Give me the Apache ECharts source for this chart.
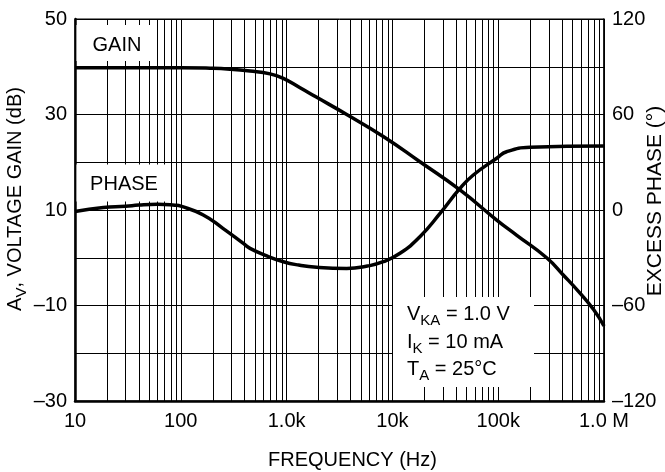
<!DOCTYPE html>
<html>
<head>
<meta charset="utf-8">
<script src="https://cdn.jsdelivr.net/npm/echarts@6/dist/echarts.min.js"></script>
<style>
  html, body { margin: 0; padding: 0; background: #fff; }
  #chart { width: 665px; height: 472px; }
</style>
</head>
<body>
<div id="chart"></div>
<script>
// Frequency axis ticks (Hz) and their printed labels
const frequencyTicks = [10, 100, 1000, 10000, 100000, 1000000];
const frequencyTickLabels = ['10', '100', '1.0k', '10k', '100k', '1.0 M'];

// Labelled values on the gain (left) and phase (right) axes
const gainTickLabels = [50, 30, 10, -10, -30];
const phaseTickLabels = [120, 60, 0, -60, -120];

// Open-loop voltage gain vs frequency
const gainFreq = [10, 30, 100, 189, 291, 451, 697, 920, 1340, 1890, 3700, 8200, 18200, 43500, 96800, 150000, 287000, 412000, 593000, 800000, 1000000];
const gainDb   = [39.8, 39.8, 39.8, 39.7, 39.5, 39.1, 38.5, 37.6, 35.6, 33.7, 30.0, 25.4, 20.1, 14.2, 7.9, 4.7, 0.0, -3.6, -7.4, -10.9, -14.3];

// Excess phase vs frequency
const phaseFreq = [10, 18.5, 30, 40, 60, 88, 100, 163, 250, 390, 451, 650, 931, 1300, 1923, 3700, 5800, 8200, 11800, 18200, 28200, 43500, 58200, 96800, 120000, 200000, 1000000];
const phaseDeg  = [-1.0, 1.5, 2.3, 3.1, 3.6, 3.0, 2.4, -3.1, -11.5, -21.0, -24.1, -28.8, -32.5, -34.6, -36.0, -36.7, -35.2, -32.5, -27.2, -16.8, -2.1, 13.6, 22.0, 32.5, 36.6, 39.4, 40.2];

// Intermediate log-grid lines (2..9 within each decade)
const minorGridFreq = [];
for (let d = 10; d < 1000000; d *= 10) {
  for (let k = 2; k <= 9; k++) minorGridFreq.push(k * d);
}

const FONT = '"Liberation Sans", Arial, Helvetica, sans-serif';
const dash = v => String(v).replace('-', '\u2013');
const zip = (xs, ys) => xs.map((x, i) => [x, ys[i]]);

const chart = echarts.init(document.getElementById('chart'), null, { renderer: 'canvas' });

// rich-text styles for labels with subscripts
const subRich = {
  a: { fontSize: 20, fontFamily: FONT, lineHeight: 22, verticalAlign: 'top', fill: '#000' },
  s: { fontSize: 15, fontFamily: FONT, lineHeight: 15, padding: [11, 0, 0, 0], fill: '#000' }
};

chart.setOption({
  animation: false,
  backgroundColor: '#fff',
  textStyle: { fontFamily: FONT },
  grid: {
    left: 75, right: 61, top: 19, bottom: 71,
    show: true, borderColor: '#000', borderWidth: 1, backgroundColor: 'transparent'
  },
  xAxis: {
    type: 'log', logBase: 10, min: 10, max: 1000000,
    axisLine: { show: true, onZero: false, lineStyle: { color: '#000', width: 2.5 } },
    axisTick: { show: false },
    splitLine: { show: true, lineStyle: { color: '#000', width: 1 } },
    axisLabel: {
      color: '#000', fontSize: 20, fontFamily: FONT, margin: 10,
      showMinLabel: true, showMaxLabel: true,
      formatter: v => {
        const i = frequencyTicks.findIndex(t => Math.abs(Math.log10(t) - Math.log10(v)) < 1e-6);
        return i >= 0 ? frequencyTickLabels[i] : '';
      }
    }
  },
  yAxis: [
    {
      type: 'value', min: -30, max: 50, interval: 10, position: 'left',
      axisLine: { show: true, onZero: false, lineStyle: { color: '#000', width: 2.5 } },
      axisTick: { show: false },
      splitLine: { show: true, lineStyle: { color: '#000', width: 1 } },
      axisLabel: {
        color: '#000', fontSize: 20, fontFamily: FONT, margin: 8,
        formatter: v => gainTickLabels.includes(Math.round(v)) ? dash(Math.round(v)) : ''
      }
    },
    {
      type: 'value', min: -120, max: 120, interval: 60, position: 'right',
      axisLine: { show: true, onZero: false, lineStyle: { color: '#000', width: 1.5 } },
      axisTick: { show: false },
      splitLine: { show: false },
      axisLabel: {
        color: '#000', fontSize: 20, fontFamily: FONT, margin: 8,
        formatter: v => phaseTickLabels.includes(Math.round(v)) ? dash(Math.round(v)) : ''
      }
    }
  ],
  series: [
    {
      name: 'grid',
      type: 'custom',
      coordinateSystem: 'cartesian2d',
      xAxisIndex: 0, yAxisIndex: 0,
      z: 1, silent: true,
      encode: { x: 0, y: 1 },
      data: minorGridFreq.map(f => [f, -30]),
      renderItem: (params, api) => {
        const f = api.value(0);
        const a = api.coord([f, -30]);
        const b = api.coord([f, 50]);
        const x = Math.round(a[0]) + 0.5;
        return {
          type: 'line',
          shape: { x1: x, y1: a[1], x2: x, y2: b[1] },
          style: { stroke: '#000', lineWidth: 1 }
        };
      }
    },
    {
      name: 'GAIN',
      type: 'line', xAxisIndex: 0, yAxisIndex: 0,
      data: zip(gainFreq, gainDb),
      smooth: 0.5, showSymbol: false, symbol: 'none',
      lineStyle: { color: '#000', width: 3.5 },
      z: 6
    },
    {
      name: 'PHASE',
      type: 'line', xAxisIndex: 0, yAxisIndex: 1,
      data: zip(phaseFreq, phaseDeg),
      smooth: 0.5, showSymbol: false, symbol: 'none',
      lineStyle: { color: '#000', width: 3.5 },
      z: 6
    }
  ],
  graphic: [
    // white backing panels for the in-plot captions
    { type: 'rect', z: 3, silent: true, shape: { x: 76.5, y: 25, width: 76, height: 36 }, style: { fill: '#fff' } },
    { type: 'rect', z: 3, silent: true, shape: { x: 76.5, y: 164.5, width: 90, height: 37 }, style: { fill: '#fff' } },
    { type: 'rect', z: 3, silent: true, shape: { x: 393, y: 297, width: 141, height: 90 }, style: { fill: '#fff' } },

    { type: 'text', z: 4, x: 117, y: 45, style: { text: 'GAIN', font: '20px ' + FONT, fill: '#000', align: 'center', verticalAlign: 'middle' } },
    { type: 'text', z: 4, x: 124, y: 184, style: { text: 'PHASE', font: '20px ' + FONT, fill: '#000', align: 'center', verticalAlign: 'middle' } },

    // test conditions
    { type: 'text', z: 4, x: 407, y: 304.5, style: { text: '{a|V}{s|KA}{a| = 1.0 V}', align: 'left', verticalAlign: 'top', rich: subRich } },
    { type: 'text', z: 4, x: 407, y: 332.5, style: { text: '{a|I}{s|K}{a| = 10 mA}', align: 'left', verticalAlign: 'top', rich: subRich } },
    { type: 'text', z: 4, x: 407, y: 359, style: { text: '{a|T}{s|A}{a| = 25\u00B0C}', align: 'left', verticalAlign: 'top', rich: subRich } },

    // axis titles
    { type: 'text', z: 4, x: 352.5, y: 460, style: { text: 'FREQUENCY (Hz)', font: '20px ' + FONT, fill: '#000', align: 'center', verticalAlign: 'middle' } },
    {
      type: 'text', z: 4, x: 16, y: 199, rotation: Math.PI / 2,
      style: { text: '{a|A}{s|V}{a|, VOLTAGE GAIN (dB)}', align: 'center', verticalAlign: 'middle', rich: subRich }
    },
    { type: 'text', z: 4, x: 655, y: 201, rotation: Math.PI / 2, style: { text: 'EXCESS PHASE (\u00B0)', font: '21px ' + FONT, fill: '#000', align: 'center', verticalAlign: 'middle' } }
  ]
});
</script>
</body>
</html>
